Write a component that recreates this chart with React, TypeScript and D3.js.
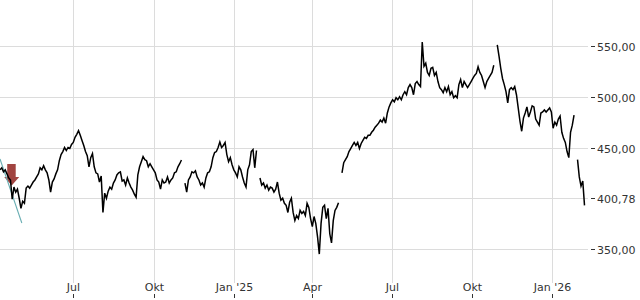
import React from "react";
import * as d3 from "d3";

// ---- data ----
const sampleStart = "2024-04-08";
const sampleStepDays = 2;
const priceValues: (number | null)[] = [
  428, 430, 426, 428, 424, 420, 418, 399, 411, 406,
  409, 400, 390, 397, 395, 410, 412, 410, 413, 416,
  418, 421, 424, 430, 428, 432, 428, 425, 418, 406,
  416, 419, 424, 428, 437, 443, 446, 450, 447, 450,
  449, 453, 455, 460, 463, 466.6, 462, 457, 452, 446,
  442, 431, 440, 444, 431, 425, 424, 416, 422, 386,
  405, 400, 407, 411, 409, 415, 418, 423, 425, 426,
  417, 418, 413, 420, 415, 411, 408, 404, 401, 423,
  431, 436, 441, 438, 437, 431, 434, 431, 428, 425,
  418, 416, 409, 418, 415, 416, 421, 415, 418, 420,
  425, 426, 431, 434, 437.7, null, 415, 406, 418, 421,
  426, 425, 427, 421, 418, 413, 415, 411, 420, 425,
  426, 431, 440, 445, 446, 450, 455.4, 450, 452, 455,
  443, 436, 440, 433, 428, 425, 421, 431, 428, 421,
  415, 411, 428, 433, 446, 448, 430, 447, null, 420,
  413, 415, 410, 413, 408, 411, 410, 406, 409, 416,
  405, 398, 400, 395, 393, 386, 396, 400, 386, 378,
  383, 380, 388, 385, 387, 383, 395, 391, 380, 372,
  382, 375, 362, 345, 375, 391, 393, 380, 390, 365,
  356, 378, 388, 391, 395.6, null, 425, 435, 438, 441,
  446, 449, 452, 455, 452, 455, 449, 454, 457, 460,
  459, 462, 462, 465, 467, 470, 472, 474, 477, 475,
  479, 474, 484, 490, 494, 497, 495, 499, 497, 500,
  497, 502, 505, 502, 509, 512, 509, 502, 513, 515,
  512, 510, 554, 530, 533, 524, 521, 528, 529, 521,
  524, 515, 509, 507, 504, 509, 505, 510, 502, 505,
  499, 501, 499, 512, 517, 509, 515, 512, 509, 512,
  515, 518, 521, 523, 529.6, 524, 521, 515, 509, 515,
  518, 521, 524, 531, null, 551, 540, 528, 518, 512,
  505, 494, 507, 509, 507, 510, 502, 489, 476, 466,
  479, 484, 490, 480, 485, 491, 490, 478, 475, 472,
  484, 485, 487, 485, 487, 489, 485, 469, 475, 472,
  478, 481, 465, 459, 455, 446, 440, 465, 472, 482,
  null, 438, 421, 412, 417, 393,
];

const xTickDates = ["2024-07-01", "2024-10-01", "2025-01-01", "2025-04-01", "2025-07-01", "2025-10-01", "2026-01-01"];
const xTickLabels = ["Jul", "Okt", "Jan '25", "Apr", "Jul", "Okt", "Jan '26"];
const yTickValues = [550, 500, 450, 400, 350];
const yTickLabels = ["550,00", "500,00", "450,00", "400,78", "350,00"];

const trendDates = ["2024-04-08", "2024-05-03"];
const trendValues = [438.7, 375.6];
const arrowDate = "2024-04-22";
const arrowValue = 413;

const domainStart = "2024-04-08";
const domainEnd = "2026-02-11";

const parse = (s: string) => {
  const [y, m, d] = s.split("-").map(Number);
  return new Date(y, m - 1, d);
};

export default function App() {
  const W = 640;
  const H = 300;
  const plotRight = 588;
  const plotBottom = 283;

  const x = d3.scaleTime().domain([parse(domainStart), parse(domainEnd)]).range([0, plotRight]);
  const y = d3.scaleLinear().domain([350, 550]).range([249, 46]);

  const start = parse(sampleStart);
  const pts = priceValues.map((v, i) => ({ date: d3.timeDay.offset(start, i * sampleStepDays), value: v }));

  const line = d3
    .line<{ date: Date; value: number | null }>()
    .defined((d) => d.value !== null)
    .x((d) => x(d.date))
    .y((d) => y(d.value as number));

  const trend = d3
    .line<number>()
    .x((_, i) => x(parse(trendDates[i])))
    .y((v) => y(v));

  const ax = x(parse(arrowDate));
  const ay = y(arrowValue);
  const arrowPath = `M${ax - 5},${ay - 21} L${ax + 3.5},${ay - 21} L${ax + 3.5},${ay - 8} L${ax + 7},${ay - 8} L${ax - 0.5},${ay + 0.5} L${ax - 8},${ay - 8} L${ax - 5},${ay - 8} Z`;

  const font = "DejaVu Sans, sans-serif";

  return (
    <svg width={W} height={H} style={{ position: "absolute", left: 0, top: 0, background: "#fff" }}>
      <rect x={0} y={0} width={W} height={H} fill="#fff" />
      {xTickDates.map((d, i) => {
        const xp = Math.round(x(parse(d))) + 0.5;
        return (
          <g key={"x" + i}>
            <line x1={xp} x2={xp} y1={0} y2={plotBottom} stroke="#dcdcdc" strokeWidth={1} />
            <line x1={xp} x2={xp} y1={294} y2={298} stroke="#333" strokeWidth={1} />
            <text x={xp} y={291} textAnchor="middle" fontFamily={font} fontSize={11} fill="#333">
              {xTickLabels[i]}
            </text>
          </g>
        );
      })}
      {yTickValues.map((v, i) => {
        const yp = Math.round(y(v)) + 0.5;
        return (
          <g key={"y" + i}>
            <line x1={0} x2={plotRight} y1={yp} y2={yp} stroke="#dcdcdc" strokeWidth={1} />
            <line x1={591} x2={595} y1={yp} y2={yp} stroke="#333" strokeWidth={1} />
            <text x={597} y={yp + 4} textAnchor="start" fontFamily={font} fontSize={11} fill="#333">
              {yTickLabels[i]}
            </text>
          </g>
        );
      })}
      <path d={arrowPath} fill="#9c3a36" opacity={0.95} />
      <path d={trend(trendValues) || ""} fill="none" stroke="#6aaeb3" strokeWidth={1.1} />
      <path d={line(pts) || ""} fill="none" stroke="#000" strokeWidth={1.5} strokeLinejoin="miter" />
    </svg>
  );
}
